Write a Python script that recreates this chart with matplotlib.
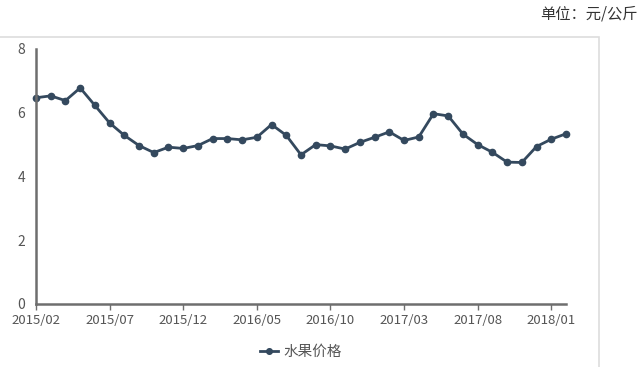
import matplotlib
matplotlib.use("Agg")
import matplotlib.pyplot as plt
from matplotlib.patches import Rectangle

plt.rcParams['font.family'] = ['Noto Sans CJK SC', 'DejaVu Sans']

# monthly fruit price, 2015/02 .. 2018/02
prices = [6.47, 6.53, 6.38, 6.78, 6.23, 5.68, 5.29, 4.97, 4.75, 4.92,
          4.88, 4.97, 5.19, 5.19, 5.15, 5.23, 5.63, 5.29, 4.68, 5.00,
          4.96, 4.86, 5.07, 5.23, 5.40, 5.13, 5.24, 5.97, 5.90, 5.33,
          5.00, 4.76, 4.45, 4.44, 4.94, 5.17, 5.34]
tick_labels = ['2015/02', '2015/07', '2015/12', '2016/05', '2016/10',
               '2017/03', '2017/08', '2018/01']
series_name = '水果价格'
unit_text = '单位：元/公斤'

line_color = '#34495e'
axis_color = '#6e6e6e'
text_color = '#555555'

fig = plt.figure(figsize=(6.4, 3.67), dpi=100)
ax = fig.add_axes([0.05625, 0.1717, 0.8281, 0.6948])

months = list(range(len(prices)))
ax.plot(months, prices, color=line_color, linewidth=2, marker='o',
        markersize=4.5, label=series_name, clip_on=False)

ax.set_xlim(0, len(prices) - 1)
ax.set_ylim(0, 8)
ax.set_xticks(months[::5])
ax.set_xticklabels(tick_labels)
ax.set_yticks([0, 2, 4, 6, 8])

for side in ['top', 'right']:
    ax.spines[side].set_visible(False)
for side in ['left', 'bottom']:
    ax.spines[side].set_color(axis_color)
    ax.spines[side].set_linewidth(1.8)

ax.tick_params(axis='x', colors=axis_color, labelcolor=text_color,
               labelsize=9.5, length=4, width=1, pad=3)
ax.tick_params(axis='y', colors=axis_color, labelcolor=text_color,
               labelsize=10, length=0, pad=8)

leg = ax.legend(loc='upper center', bbox_to_anchor=(0.5, -0.11), frameon=False,
                fontsize=10.5, handlelength=1.2, handletextpad=0.4,
                markerscale=0.9)
for t in leg.get_texts():
    t.set_color(text_color)

# light outer frame of the chart
fig.patches.append(Rectangle((-0.01, -0.01), 0.946, 0.91,
                             transform=fig.transFigure, fill=False,
                             edgecolor='#dddddd', linewidth=1.2))

fig.text(0.996, 0.962, unit_text, ha='right', va='center', fontsize=11,
         color='#333333')

fig.savefig('out.png', dpi=100)
